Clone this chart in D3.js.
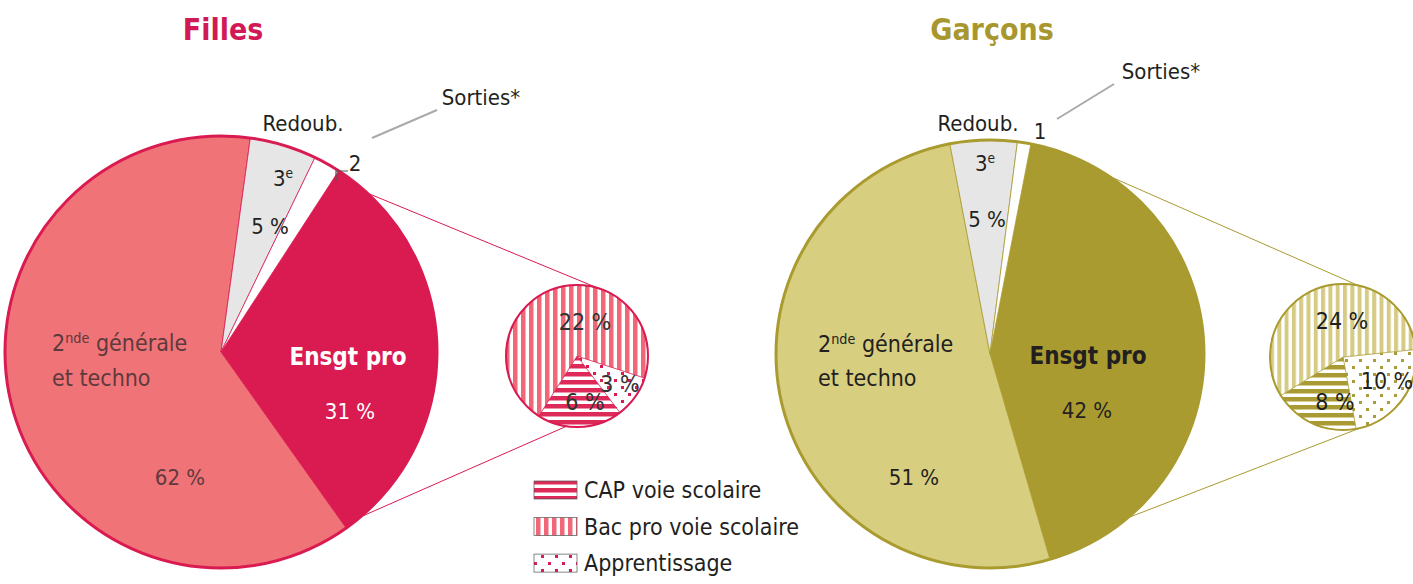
<!DOCTYPE html>
<html>
<head>
<meta charset="utf-8">
<script src="https://cdn.jsdelivr.net/npm/d3@7"></script>
<style>
  body { margin: 0; background: #fff; }
  text { font-family: "Liberation Sans Narrow", "DejaVu Sans Condensed", "Roboto", sans-serif; }
</style>
</head>
<body>
<div id="chart"></div>
<script>
// data
const groups = ["Filles", "Garçons"];
const mainCats = ["Ensgt pro", "2nde générale et techno", "Redoub.", "Sorties*"];
const fillesMain = [31, 62, 5, 2];
const garconsMain = [42, 51, 5, 1];
const proCats = ["Apprentissage", "CAP voie scolaire", "Bac pro voie scolaire"];
const fillesPro = [3, 6, 22];
const garconsPro = [10, 8, 24];
const legendOrder = ["CAP voie scolaire", "Bac pro voie scolaire", "Apprentissage"];

const width = 1413, height = 584;
const rad = Math.PI / 180;

const svg = d3.select("#chart").append("svg")
    .attr("width", width)
    .attr("height", height);
const defs = svg.append("defs");

const stripes = function (id, color, vertical, period, w) {
    const p = defs.append("pattern")
        .attr("id", id)
        .attr("patternUnits", "userSpaceOnUse")
        .attr("width", vertical ? period : 20)
        .attr("height", vertical ? 20 : period);
    p.append("rect").attr("width", "100%").attr("height", "100%").attr("fill", "#fff");
    p.append("rect")
        .attr("width", vertical ? w : 20)
        .attr("height", vertical ? 20 : w)
        .attr("fill", color);
};

const dots = function (id, color) {
    const p = defs.append("pattern")
        .attr("id", id)
        .attr("patternUnits", "userSpaceOnUse")
        .attr("width", 14)
        .attr("height", 14);
    p.append("rect").attr("width", 14).attr("height", 14).attr("fill", "#fff");
    p.append("rect").attr("x", 2).attr("y", 2).attr("width", 3).attr("height", 3).attr("fill", color);
    p.append("rect").attr("x", 9).attr("y", 9).attr("width", 3).attr("height", 3).attr("fill", color);
};

stripes("vF", "#f06878", true, 8, 4.5);
stripes("hF", "#dd2a58", false, 8, 4.5);
dots("dF", "#d91b51");
stripes("vG", "#d6cb84", true, 7.3, 4);
stripes("hG", "#a99b34", false, 8, 4.5);
dots("dG", "#aa9c38");

const charts = [
    {
        name: groups[0], values: fillesMain, pro: fillesPro,
        cx: 221, cy: 352, r: 216, start: 33,
        pcx: 577, pcy: 356, pr: 71, pstart: 108,
        dark: "#d91b51", light: "#f07378", title: "#d11a55",
        txt: "#5e3a3c", proTxt: "#ffffff", proFills: ["url(#dF)", "url(#hF)", "url(#vF)"],
        link: [[42.6, 27], [139.8, 124]],
        labels: {
            pro: [[127, 5], [129, 59]],
            gen: [[-169, -9], [-169, 26], [-41, 125]],
            red: [[82, -229], [62, -174], [49, -126]],
            sor: [[260, -255], [134, -189]]
        },
        sortLine: [[216, -242], [151, -214]],
        proLabels: [[43, 28], [8, 46], [8, -34]],
        proTextColor: "#333"
    },
    {
        name: groups[1], values: garconsMain, pro: garconsPro,
        cx: 990, cy: 354, r: 214, start: 11,
        pcx: 1343, pcy: 357, pr: 73, pstart: 84,
        dark: "#a99b30", light: "#d8ce80", title: "#a8972e",
        txt: "#231f20", proTxt: "#231f20", proFills: ["url(#dG)", "url(#hG)", "url(#vG)"],
        link: [[33.7, 12.4], [140, 166]],
        labels: {
            pro: [[98, 2], [97, 56]],
            gen: [[-172, -10], [-172, 24], [-76, 123]],
            red: [[-12, -231], [-5, -191], [-3, -135]],
            sor: [[171, -283], [50, -223]]
        },
        sortLine: [[124, -270], [67, -235]],
        proLabels: [[44, 24], [-8, 45], [-1, -36]],
        proTextColor: "#231f20"
    }
];

const polar = function (cx, cy, r, a) {
    return [cx + r * Math.sin(a * rad), cy - r * Math.cos(a * rad)];
};

const addText = function (g, str, x, y, opts) {
    const t = g.append("text")
        .attr("x", x)
        .attr("y", y)
        .attr("dy", "0.35em")
        .attr("text-anchor", opts.anchor || "middle")
        .attr("font-size", opts.size || 22)
        .attr("font-weight", opts.weight || "normal")
        .attr("fill", opts.color || "#231f20");
    if (opts.sup) {
        t.append("tspan").text(str);
        t.append("tspan")
            .attr("font-size", (opts.size || 22) * 0.62)
            .attr("baseline-shift", "super")
            .text(opts.sup);
        if (opts.rest) t.append("tspan").text(opts.rest);
    } else {
        t.text(str);
    }
    return t;
};

charts.forEach(c => {
    const g = svg.append("g");

    // title
    g.append("text")
        .attr("x", c.cx + 2)
        .attr("y", 40)
        .attr("text-anchor", "middle")
        .attr("font-size", 30)
        .attr("font-weight", "bold")
        .attr("fill", c.title)
        .text(c.name);

    // connector lines to the detail pie
    c.link.forEach(l => {
        const p1 = polar(c.cx, c.cy, c.r, l[0]);
        const p2 = polar(c.pcx, c.pcy, c.pr, l[1]);
        g.append("line")
            .attr("x1", p1[0]).attr("y1", p1[1])
            .attr("x2", p2[0]).attr("y2", p2[1])
            .attr("stroke", c.dark)
            .attr("stroke-width", 1);
    });

    // main pie
    const pie = d3.pie().sort(null).value(d => d)
        .startAngle(c.start * rad)
        .endAngle(c.start * rad + 2 * Math.PI);
    const arc = d3.arc().innerRadius(0).outerRadius(c.r);
    const fills = [c.dark, c.light, "#e6e6e6", "#ffffff"];

    const main = g.append("g").attr("transform", `translate(${c.cx},${c.cy})`);
    main.selectAll("path.slice")
        .data(pie(c.values))
        .enter()
        .append("path")
        .attr("class", "slice")
        .attr("d", arc)
        .attr("fill", (d, i) => fills[i])
        .attr("stroke", c.dark)
        .attr("stroke-width", 0.8);
    main.append("circle")
        .attr("r", c.r)
        .attr("fill", "none")
        .attr("stroke", c.dark)
        .attr("stroke-width", 3);

    // main labels
    const L = c.labels;
    addText(main, mainCats[0], L.pro[0][0], L.pro[0][1], {weight: "bold", size: 24, color: c.proTxt});
    addText(main, c.values[0] + " %", L.pro[1][0], L.pro[1][1], {size: 22, color: c.proTxt});
    const genWords = mainCats[1].split(" ");
    addText(main, genWords[0].slice(0, 1), L.gen[0][0], L.gen[0][1],
        {anchor: "start", color: c.txt, size: 23, sup: genWords[0].slice(1), rest: " " + genWords[1]});
    addText(main, genWords.slice(2).join(" "), L.gen[1][0], L.gen[1][1], {anchor: "start", color: c.txt, size: 23});
    addText(main, c.values[1] + " %", L.gen[2][0], L.gen[2][1], {color: c.txt, size: 22});
    addText(main, mainCats[2], L.red[0][0], L.red[0][1], {size: 22});
    addText(main, "3", L.red[1][0], L.red[1][1], {size: 22, sup: "e"});
    addText(main, c.values[2] + " %", L.red[2][0], L.red[2][1], {size: 22});
    addText(main, mainCats[3], L.sor[0][0], L.sor[0][1], {size: 22});
    addText(main, String(c.values[3]), L.sor[1][0], L.sor[1][1], {size: 22});

    main.append("line")
        .attr("x1", c.sortLine[0][0]).attr("y1", c.sortLine[0][1])
        .attr("x2", c.sortLine[1][0]).attr("y2", c.sortLine[1][1])
        .attr("stroke", "#aaa")
        .attr("stroke-width", 2);
    if (c.values[3] === 2) {
        const bx = L.sor[1][0];
        const by = L.sor[1][1];
        main.append("path")
            .attr("d", `M${bx - 19},${by + 18}V${by + 8}H${bx - 7}`)
            .attr("fill", "none")
            .attr("stroke", "#555")
            .attr("stroke-width", 1.2);
    }

    // detail pie of Ensgt pro
    const ppie = d3.pie().sort(null).value(d => d)
        .startAngle(c.pstart * rad)
        .endAngle(c.pstart * rad + 2 * Math.PI);
    const parc = d3.arc().innerRadius(0).outerRadius(c.pr);
    const det = g.append("g").attr("transform", `translate(${c.pcx},${c.pcy})`);
    det.selectAll("path.pslice")
        .data(ppie(c.pro))
        .enter()
        .append("path")
        .attr("class", "pslice")
        .attr("d", parc)
        .attr("fill", (d, i) => c.proFills[i])
        .attr("stroke", c.dark)
        .attr("stroke-width", 0.6);
    det.append("circle")
        .attr("r", c.pr)
        .attr("fill", "none")
        .attr("stroke", c.dark)
        .attr("stroke-width", 2);
    c.pro.forEach((v, i) => {
        addText(det, v + " %", c.proLabels[i][0], c.proLabels[i][1], {size: 23, color: c.proTextColor});
    });
});

// legend
const legendFills = {"CAP voie scolaire": "url(#hF)", "Bac pro voie scolaire": "url(#vF)", "Apprentissage": "url(#dF)"};
const legendY = d3.scaleBand().domain(legendOrder).range([478, 584]).paddingInner(0.1);
const leg = svg.append("g");
legendOrder.forEach(k => {
    const y = legendY(k);
    leg.append("rect")
        .attr("x", 534)
        .attr("y", y + 3)
        .attr("width", 43)
        .attr("height", 18)
        .attr("fill", legendFills[k])
        .attr("stroke", "#555")
        .attr("stroke-width", 0.7);
    leg.append("text")
        .attr("x", 584)
        .attr("y", y + 12)
        .attr("dy", "0.35em")
        .attr("font-size", 23)
        .attr("fill", "#231f20")
        .text(k);
});
</script>
</body>
</html>
